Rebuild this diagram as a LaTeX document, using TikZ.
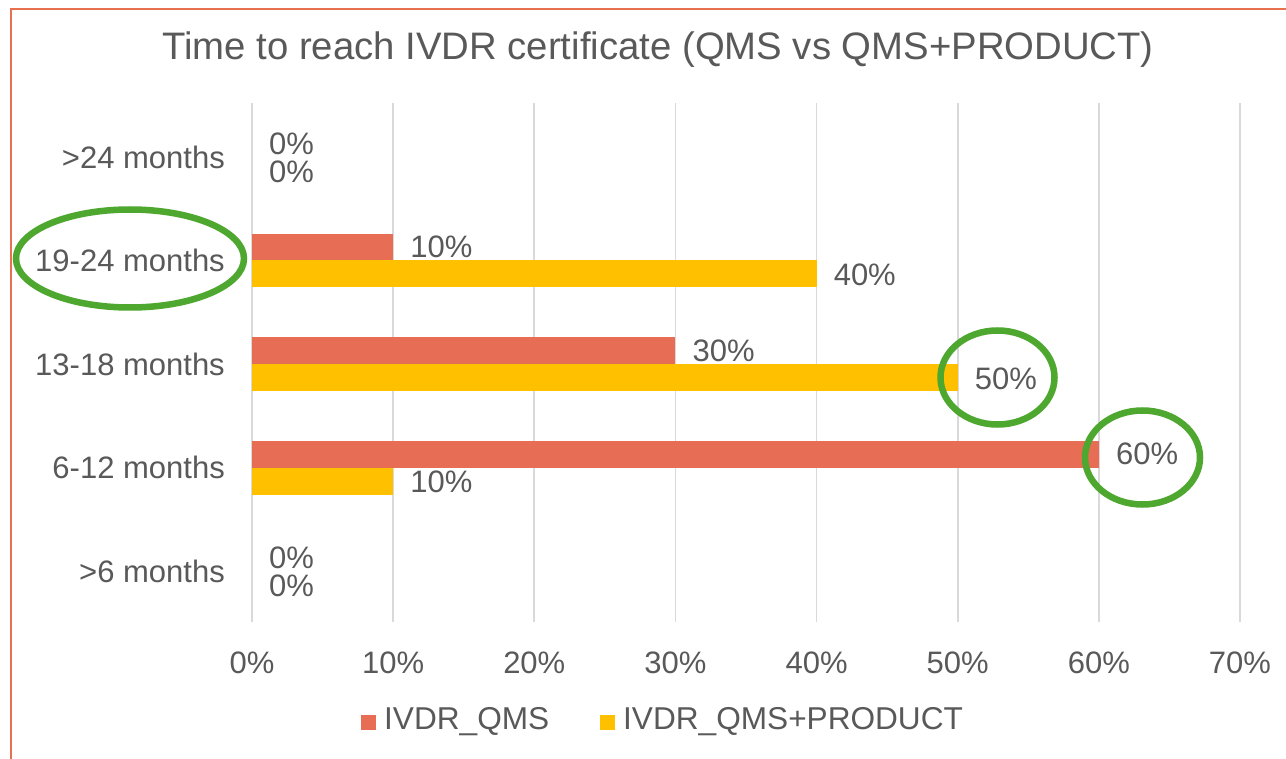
\documentclass[tikz,border=0pt]{standalone}
\usepackage{fontspec}
\setmainfont{Liberation Sans}
\definecolor{txt}{HTML}{595959}
\definecolor{grid}{HTML}{D9D9D9}
\definecolor{qms}{HTML}{E86D55}
\definecolor{prod}{HTML}{FFC000}
\definecolor{frame}{HTML}{E8704F}
\definecolor{mark}{HTML}{4EA72E}
\begin{document}
\begin{tikzpicture}[x=1pt,y=-1pt,
  lbl/.style={inner sep=0pt,text=txt,font=\fontsize{31}{34}\selectfont},
  catlbl/.style={lbl,anchor=east},
  vallbl/.style={lbl,anchor=west},
  ticklbl/.style={lbl,anchor=center},
  leglbl/.style={lbl,anchor=west,font=\fontsize{31.6}{34}\selectfont},
  gridline/.style={draw=grid,line width=1.6pt},
  qmsbar/.style={fill=qms},
  prodbar/.style={fill=prod},
  hilite/.style={draw=mark,line width=6.5pt}]
% canvas
\path[use as bounding box] (0,0) rectangle (1286,759);
\fill[white] (0,0) rectangle (1286,759);
% chart frame (top and left edges visible)
\draw[frame,line width=2.2pt] (11,759) -- (11,9) -- (1286,9);
% title
\node[lbl,font=\fontsize{38.3}{44}\selectfont] (title) at (658,50) {Time to reach IVDR certificate (QMS vs QMS+PRODUCT)};
% vertical grid lines and tick labels
\foreach \p [count=\k from 0] in {0,10,20,30,40,50,60,70}{
  \draw[gridline] ({252+141.14*\k},103) -- ({252+141.14*\k},622);
  \node[ticklbl] (tick\p) at ({252+141.14*\k},663) {\p\%};
}
% categories
\foreach \c [count=\i from 0] in {>24 months,19-24 months,13-18 months,6-12 months,>6 months}{
  \node[catlbl] (cat\i) at (225,{157+103.5*\i}) {\c};
}
% bars: value in percent, row index
\newcommand{\qmsbar}[2]{%
  \ifnum#1>0 \fill[qmsbar] (252,{157+103.5*#2-26.5}) rectangle ({252+14.114*#1},{157+103.5*#2});\fi
  \node[vallbl] (q#2) at ({252+14.114*#1+17},{157+103.5*#2-13.5}) {#1\%};}
\newcommand{\prodbar}[2]{%
  \ifnum#1>0 \fill[prodbar] (252,{157+103.5*#2}) rectangle ({252+14.114*#1},{157+103.5*#2+27});\fi
  \node[vallbl] (p#2) at ({252+14.114*#1+17},{157+103.5*#2+14.5}) {#1\%};}
\qmsbar{0}{0}\prodbar{0}{0}
\qmsbar{10}{1}\prodbar{40}{1}
\qmsbar{30}{2}\prodbar{50}{2}
\qmsbar{60}{3}\prodbar{10}{3}
\qmsbar{0}{4}\prodbar{0}{4}
% highlights
\draw[hilite] (130,258.5) ellipse [x radius=114,y radius=49];
\draw[hilite] (997.5,377.5) ellipse [x radius=57,y radius=47];
\draw[hilite] (1142.5,457.5) ellipse [x radius=57.5,y radius=47];
% legend
\fill[qmsbar] (361,714.5) rectangle (376,729.5);
\node[leglbl] (legq) at (384,722) {IVDR\_QMS};
\fill[prodbar] (600,714.5) rectangle (615,729.5);
\node[leglbl] (legp) at (623,722) {IVDR\_QMS+PRODUCT};
\end{tikzpicture}
\end{document}
